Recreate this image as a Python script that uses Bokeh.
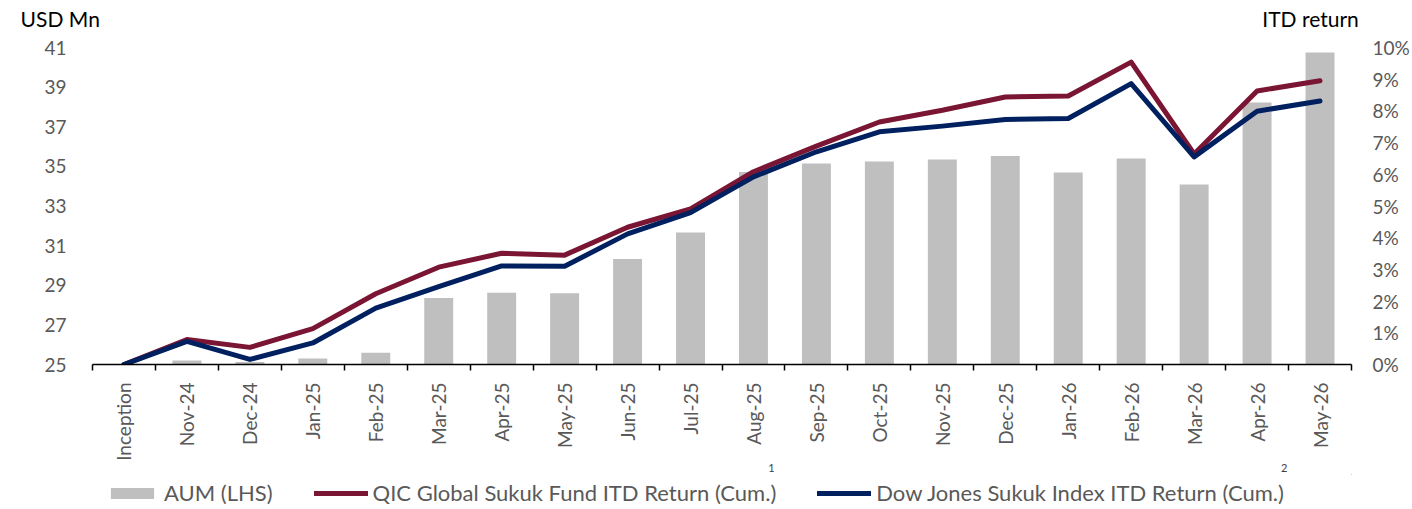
from bokeh.plotting import figure
from bokeh.layouts import column
from bokeh.models import (Range1d, LinearAxis, FixedTicker, PrintfTickFormatter,
                          Legend, LegendItem)
from bokeh.embed import file_html
from bokeh.resources import INLINE
import math

# ---------------- data ----------------
months = ["Inception", "Nov-24", "Dec-24", "Jan-25", "Feb-25", "Mar-25", "Apr-25",
          "May-25", "Jun-25", "Jul-25", "Aug-25", "Sep-25", "Oct-25", "Nov-25",
          "Dec-25", "Jan-26", "Feb-26", "Mar-26", "Apr-26", "May-26"]
aum = [25.0, 25.2, 25.12, 25.3, 25.59, 28.36, 28.62, 28.59, 30.33, 31.66,
       34.71, 35.15, 35.25, 35.35, 35.52, 34.69, 35.4, 34.09, 38.22, 40.75]
fund_ret = [0.0, 0.79, 0.54, 1.13, 2.23, 3.07, 3.51, 3.45, 4.33, 4.91,
            6.08, 6.89, 7.65, 8.02, 8.44, 8.47, 9.54, 6.64, 8.63, 8.95]
index_ret = [0.0, 0.73, 0.16, 0.68, 1.78, 2.46, 3.11, 3.10, 4.12, 4.79,
             5.92, 6.71, 7.34, 7.52, 7.73, 7.76, 8.86, 6.55, 7.99, 8.31]
left_ticks = [25, 27, 29, 31, 33, 35, 37, 39, 41]
right_ticks = [0, 1, 2, 3, 4, 5, 6, 7, 8, 9, 10]
footnote_labels = ["1", "2"]
footnote_pos = [10.285, 18.43]
left_title = "USD Mn"
right_title = "ITD return"
series_names = ["AUM (LHS)", "QIC Global Sukuk Fund ITD Return (Cum.)",
                "Dow Jones Sukuk Index ITD Return (Cum.)"]

FONT = "Lato"
GREY_TXT = "#595959"
BAR_C = "#bfbfbf"
RED = "#7a1533"
BLUE = "#002060"

xs = list(range(len(months)))
n = len(months)

W = 1412
MAIN_H, LEG_H = 474, 35

# ---------------- main chart ----------------
p = figure(width=W, height=MAIN_H, output_backend="svg", toolbar_location=None,
           x_range=Range1d(-0.5, n - 0.5), y_range=Range1d(left_ticks[0], left_ticks[-1]),
           min_border_left=92, min_border_right=59, min_border_top=47, min_border_bottom=109,
           x_axis_type=None, y_axis_type=None)
p.outline_line_color = None
p.background_fill_color = "white"
p.border_fill_color = "white"
p.extra_y_ranges = {"ret": Range1d(right_ticks[0], right_ticks[-1])}

xaxis = LinearAxis(ticker=FixedTicker(ticks=xs, minor_ticks=[i - 0.5 for i in range(n + 1)]))
xaxis.major_label_overrides = {i: m for i, m in zip(xs, months)}
xaxis.major_label_orientation = math.pi / 2
xaxis.major_tick_line_color = None
xaxis.major_tick_in = 0
xaxis.major_tick_out = 0
xaxis.minor_tick_line_color = "black"
xaxis.minor_tick_line_width = 1.5
xaxis.minor_tick_in = 0
xaxis.minor_tick_out = 6
xaxis.axis_line_color = "black"
xaxis.axis_line_width = 1.5
xaxis.major_label_standoff = 12
xaxis.major_label_text_font = FONT
xaxis.major_label_text_font_size = "19px"
xaxis.major_label_text_color = GREY_TXT
p.add_layout(xaxis, "below")

# footnote markers row
fn_axis = LinearAxis(ticker=FixedTicker(ticks=footnote_pos))
fn_axis.major_label_overrides = {v: t for v, t in zip(footnote_pos, footnote_labels)}
fn_axis.axis_line_color = None
fn_axis.major_tick_line_color = None
fn_axis.minor_tick_line_color = None
fn_axis.major_tick_in = 0
fn_axis.major_tick_out = 0
fn_axis.major_label_standoff = 0
fn_axis.major_label_text_font = FONT
fn_axis.major_label_text_font_size = "11px"
fn_axis.major_label_text_color = "#404040"
p.add_layout(fn_axis, "below")

# axis titles row (above the frame); the left title is padded with no-break spaces
# so that, centred on the frame's left edge, it sits above the left tick labels
title_pos = [-0.5, 18.85]
t_axis = LinearAxis(ticker=FixedTicker(ticks=title_pos))
t_axis.major_label_overrides = {title_pos[0]: left_title + "\u00a0" * 12,
                                title_pos[1]: right_title}
t_axis.axis_line_color = None
t_axis.major_tick_line_color = None
t_axis.minor_tick_line_color = None
t_axis.major_tick_in = 0
t_axis.major_tick_out = 0
t_axis.major_label_standoff = 17
t_axis.major_label_text_font = FONT
t_axis.major_label_text_font_size = "21px"
t_axis.major_label_text_color = "black"
p.add_layout(t_axis, "above")

yaxis = LinearAxis(ticker=FixedTicker(ticks=left_ticks))
yaxis.axis_line_color = None
yaxis.major_tick_line_color = None
yaxis.minor_tick_line_color = None
yaxis.major_label_standoff = 20
yaxis.major_label_text_font = FONT
yaxis.major_label_text_font_size = "19px"
yaxis.major_label_text_color = GREY_TXT
p.add_layout(yaxis, "left")

raxis = LinearAxis(y_range_name="ret", ticker=FixedTicker(ticks=right_ticks),
                   formatter=PrintfTickFormatter(format="%d%%"))
raxis.axis_line_color = None
raxis.major_tick_line_color = None
raxis.minor_tick_line_color = None
raxis.major_label_standoff = 15
raxis.major_label_text_font = FONT
raxis.major_label_text_font_size = "19px"
raxis.major_label_text_color = GREY_TXT
p.add_layout(raxis, "right")

p.ygrid.ticker = FixedTicker(ticks=left_ticks)
p.ygrid.grid_line_color = "#d9d9d9"
p.ygrid.grid_line_width = 1.5
p.xgrid.grid_line_color = None

p.vbar(x=xs, top=aum, bottom=left_ticks[0], width=0.46, fill_color=BAR_C, line_color=None)
p.line(xs, fund_ret, y_range_name="ret", line_color=RED, line_width=5,
       line_join="round", line_cap="round")
p.line(xs, index_ret, y_range_name="ret", line_color=BLUE, line_width=5,
       line_join="round", line_cap="round")

# ---------------- legend strip ----------------
leg = figure(width=W, height=LEG_H, output_backend="svg", toolbar_location=None,
             x_range=Range1d(-1000, -999), y_range=Range1d(-1000, -999),
             min_border_left=0, min_border_right=0, min_border_top=0, min_border_bottom=0,
             x_axis_type=None, y_axis_type=None)
leg.outline_line_color = None
leg.xgrid.visible = False
leg.ygrid.visible = False
# key renderers (outside the strip's visible range; used only for the legend swatches)
rb = leg.vbar(x=xs, top=aum, bottom=left_ticks[0], width=0.46, fill_color=BAR_C, line_color=None)
r1 = leg.line(xs, fund_ret, line_color=RED, line_width=5, line_cap="round")
r2 = leg.line(xs, index_ret, line_color=BLUE, line_width=5, line_cap="round")

legend = Legend(items=[LegendItem(label=series_names[0], renderers=[rb]),
                       LegendItem(label=series_names[1], renderers=[r1]),
                       LegendItem(label=series_names[2], renderers=[r2])],
                orientation="horizontal", location=(13, 3))
legend.padding = 0
legend.margin = 0
legend.spacing = 41
legend.border_line_color = None
legend.background_fill_alpha = 0
legend.glyph_width = 54
legend.glyph_height = 14
legend.label_standoff = 5
legend.label_height = 20
legend.label_text_font = FONT
legend.label_text_font_size = "22px"
legend.label_text_color = GREY_TXT
legend.label_text_baseline = "middle"
leg.add_layout(legend, "center")

layout = column(p, leg, spacing=0)
open("out.html", "w").write(file_html(layout, INLINE))
